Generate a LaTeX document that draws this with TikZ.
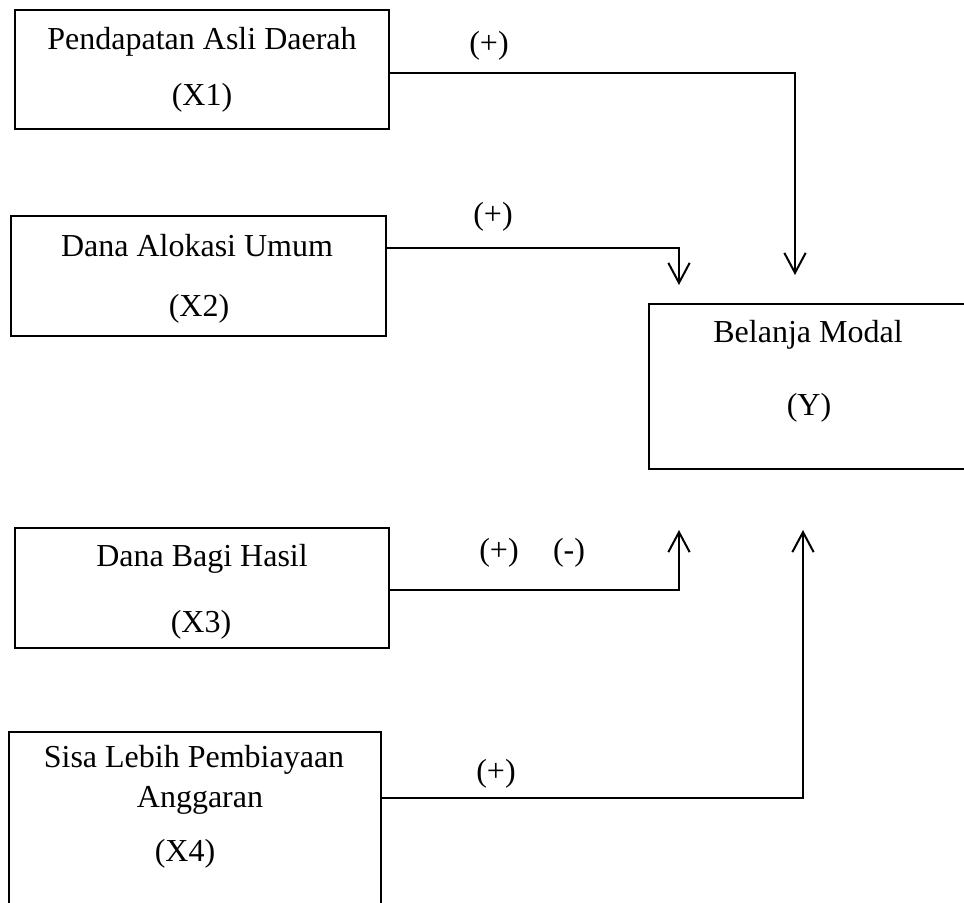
\documentclass[tikz,border=0pt]{standalone}
\usepackage{fontspec}
\setmainfont{Liberation Serif}
\usetikzlibrary{arrows.meta,fit}
\begin{document}
\begin{tikzpicture}[x=0.375pt,y=-0.375pt,
  box/.style={draw,line width=0.55pt,inner sep=0pt},
  txt/.style={font=\fontsize{12}{14}\selectfont,inner sep=0pt},
  conn/.style={line width=0.75pt,-{Straight Barb[length=7.5pt,width=8pt]}}]
\useasboundingbox (0,0) rectangle (964,902);
\clip (0,0) rectangle (964,902);
% boxes
\node[box,fit={(15,10) (389,129)}] (x1) {};
\node[box,fit={(11,216) (386,336)}] (x2) {};
\node[box,fit={(15,528) (389,648)}] (x3) {};
\node[box,fit={(9,732) (381,960)}] (x4) {};
\node[box,fit={(649,304) (1010,469)}] (y) {};
% texts
\node[txt] (x1a) at (202,42) {Pendapatan Asli Daerah};
\node[txt] (x1b) at (202,98) {(X1)};
\node[txt] (x2a) at (197,246) {Dana Alokasi Umum};
\node[txt] (x2b) at (199,309) {(X2)};
\node[txt] (x3a) at (202,559) {Dana Bagi Hasil};
\node[txt] (x3b) at (201,625) {(X3)};
\node[txt] (x4a) at (194,760) {Sisa Lebih Pembiayaan};
\node[txt] (x4b) at (200,800) {Anggaran};
\node[txt] (x4c) at (185,854) {(X4)};
\node[txt] (ya) at (808,335) {Belanja Modal};
\node[txt] (yb) at (809,408) {(Y)};
% labels
\node[txt] (l1) at (489,46) {(+)};
\node[txt] (l2) at (493,217) {(+)};
\node[txt] (l3) at (499,553) {(+)};
\node[txt] (l3m) at (569,553) {(-)};
\node[txt] (l4) at (496,774) {(+)};
% connectors
\coordinate (c1) at (795,73);  \coordinate (t1) at (795,275);
\coordinate (c2) at (679,248); \coordinate (t2) at (679,285);
\coordinate (c3) at (679,590); \coordinate (t3) at (679,530);
\coordinate (c4) at (803,798); \coordinate (t4) at (803,530);
\draw[conn] (x1.east |- c1) -- (c1) -- (t1);
\draw[conn] (x2.east |- c2) -- (c2) -- (t2);
\draw[conn] (x3.east |- c3) -- (c3) -- (t3);
\draw[conn] (x4.east |- c4) -- (c4) -- (t4);
\end{tikzpicture}
\end{document}
